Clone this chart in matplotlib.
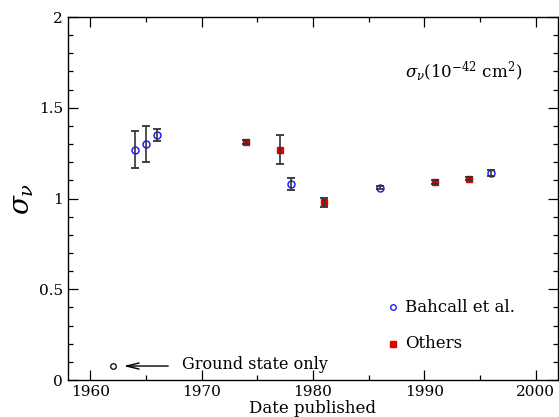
import matplotlib
matplotlib.use("Agg")
import matplotlib.pyplot as plt
from matplotlib.ticker import MultipleLocator

plt.rcParams['font.family'] = ['DejaVu Serif']
plt.rcParams['mathtext.fontset'] = 'dejavuserif'

# Bahcall et al. values
bah_year = [1964, 1965, 1966, 1978, 1986, 1996]
bah_sigma = [1.27, 1.30, 1.35, 1.08, 1.06, 1.14]
bah_err = [0.10, 0.10, 0.035, 0.035, 0.01, 0.015]

# other groups
oth_year = [1974, 1977, 1981, 1991, 1994]
oth_sigma = [1.31, 1.27, 0.98, 1.09, 1.11]
oth_err = [0.01, 0.08, 0.025, 0.01, 0.01]

# ground state only estimate
gs_year = [1962]
gs_sigma = [0.077]

fig = plt.figure(figsize=(5.59, 4.17), dpi=100)
ax = fig.add_axes([0.1216, 0.0887, 0.8766, 0.8705])

ax.plot(bah_year, bah_sigma, 'o', mfc='none', mec='#2020ff', ms=5, mew=1.1, zorder=2)
ax.plot(oth_year, oth_sigma, 's', mfc='#e00000', mec='#e00000', ms=4.3, zorder=2)
# error bars are drawn over the markers
ax.errorbar(bah_year, bah_sigma, yerr=bah_err, fmt='none', ecolor='0.2',
            elinewidth=1.2, capsize=2.6, capthick=1.3, zorder=3)
ax.errorbar(oth_year, oth_sigma, yerr=oth_err, fmt='none', ecolor='0.2',
            elinewidth=1.2, capsize=2.6, capthick=1.3, zorder=3)
ax.plot(gs_year, gs_sigma, 'o', mfc='none', mec='black', ms=4, mew=0.9)

ax.annotate('', xy=(1963.0, 0.077), xytext=(1967.0, 0.077),
            arrowprops=dict(arrowstyle='->,head_length=0.9,head_width=0.22',
                            color='black', lw=1.0, shrinkA=0, shrinkB=0))
ax.text(1968.2, 0.085, 'Ground state only', fontsize=11.5, va='center', ha='left')

# legend drawn by hand
ax.plot([1987.2], [0.40], 'o', mfc='none', mec='#2020ff', ms=4, mew=1.0)
ax.text(1988.3, 0.40, 'Bahcall et al.', fontsize=12, va='center', ha='left')
ax.plot([1987.2], [0.20], 's', mfc='#e00000', mec='#e00000', ms=3.8)
ax.text(1988.3, 0.20, 'Others', fontsize=12, va='center', ha='left')

ax.text(1988.3, 1.70, r'$\sigma_\nu$(10$^{-42}$ cm$^2$)', fontsize=12,
        va='center', ha='left')

ax.set_xlim(1958, 2002)
ax.set_ylim(0, 2)
ax.xaxis.set_major_locator(MultipleLocator(10))
ax.xaxis.set_minor_locator(MultipleLocator(5))
ax.yaxis.set_major_locator(MultipleLocator(0.5))
ax.yaxis.set_minor_locator(MultipleLocator(0.1))
ax.set_yticks([0, 0.5, 1, 1.5, 2])
ax.set_yticklabels(['0', '0.5', '1', '1.5', '2'])
ax.tick_params(which='both', direction='in', top=True, right=True,
               labelsize=11, width=0.9)
ax.tick_params(which='major', length=7)
ax.tick_params(which='minor', length=3.5)
for s in ax.spines.values():
    s.set_linewidth(1.0)

ax.set_xlabel('Date published', fontsize=12, labelpad=1)
ax.set_ylabel(r'$\sigma_\nu$', fontsize=20, labelpad=2)

fig.savefig('out.png', dpi=100)
